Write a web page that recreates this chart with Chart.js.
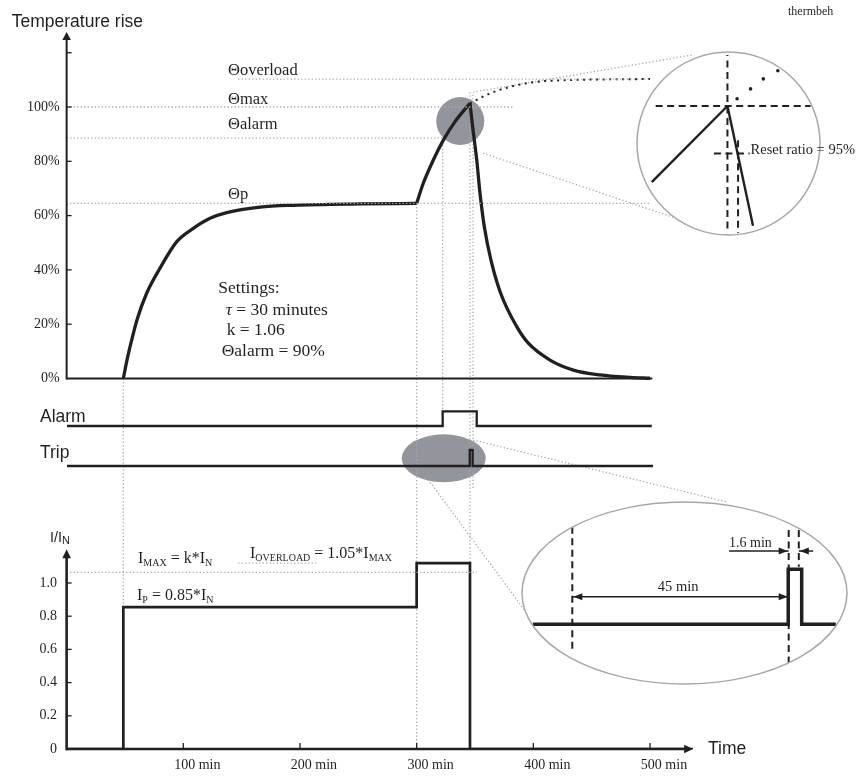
<!DOCTYPE html>
<html>
<head>
<meta charset="utf-8">
<title>thermbeh</title>
<script src="https://cdn.jsdelivr.net/npm/chart.js@4.4.1/dist/chart.umd.min.js"></script>
<style>
  html, body { margin: 0; padding: 0; background: #fff; }
  #wrap { position: relative; width: 859px; height: 776px; overflow: hidden; }
  #wrap canvas { position: absolute; }
</style>
</head>
<body>
<div id="wrap">
  <canvas id="main"></canvas>
  <canvas id="lensPeak"></canvas>
  <canvas id="lensTrip"></canvas>
</div>
<script>
// ---- values, time in minutes ----
// temperature rise (%) : heating at I = 0.85*In, overload, cooling after trip
const heatTime = [48.6, 52, 55.8, 60.6, 68.6, 80, 94.4, 108.6, 122.9, 137.2, 165.8, 194.3, 251.5, 300];
const heatTemp = [0, 7.3, 14.2, 22, 31.4, 40.6, 50.4, 55.3, 59, 61.1, 63.1, 63.8, 64.3, 64.5];
const overTime = [300, 305.7, 314.3, 322.9, 332.9, 345.7];
const overTemp = [64.5, 71.9, 80.5, 87.8, 94.6, 101.4];
const coolTime = [345.7, 348, 351.5, 354.3, 358, 363.7, 372, 385.8, 395.7, 414.3, 434.3, 457.1, 482.9, 500];
const coolTemp = [101.4, 92.7, 80.5, 68.2, 55.9, 43.6, 31.4, 19.1, 13, 6.8, 3.1, 1.3, 0.4, 0.1];
// dotted: the rise if the relay did not trip
const noTripTime = [345.7, 362.9, 382.6, 411.5, 500];
const noTripTemp = [101.4, 105, 107.7, 109.6, 110.3];

// theta levels
const levelNames = ['Θoverload', 'Θmax', 'Θalarm', 'Θp'];
const levelTemp = [110.3, 100, 88.5, 64.5];
const levelFrom = [147, 0, 0, 0];
const levelTo = [500, 382.6, 322.9, 500];
const levelLabelTemp = [113.4, 102.6, 93.4, 67.6];

// alarm / trip outputs (0 = off, 1 = on)
const alarmTime = [0, 322.3, 322.3, 351.5, 351.5, 501.5];
const alarmState = [0, 0, 1, 1, 0, 0];
const tripTime = [0, 345.5, 345.5, 348, 348, 502.6];
const tripState = [0, 0, 1, 1, 0, 0];

// current I/In
const iP = 0.855, iMax = 1.064, iOverload = 1.12;
const currentTime = [0, 48.6, 48.6, 300, 300, 345.7, 345.7, 537];
const currentLevel = [0, 0, iP, iP, iOverload, iOverload, 0, 0];

// ticks
const tempTicks = [0, 20, 40, 60, 80, 100];
const tempMarks = [20, 40, 60, 80, 100, 120];
const currentTicks = [0, 0.2, 0.4, 0.6, 0.8, 1.0];
const timeTicks = [100, 200, 300, 400, 500];

// lens 1: around the peak (x = minutes from trip, y = %)
const peakRiseX = [-15.4, 0], peakRiseY = [92, 100];
const peakFallX = [0, 5.2], peakFallY = [100, 87.4];
const peakDotsX = [1.96, 4.7, 7.3, 10.25], peakDotsY = [100.76, 101.8, 102.85, 103.7];
const resetLevel = 95, resetTime = 2.16;

// lens 2: around the trip pulse (x = minutes, y = trip state)
const lensTripTime = [291.8, 344.9, 344.9, 347.7, 347.7, 354.8];
const lensTripState = [0, 0, 1, 1, 0, 0];
const overloadStart = 300, tripAt = 345, tripEnd = 347.1;

// ---- styles / layout ----
const INK = '#231f20';
const GUIDE = '#a9a9a9';
const BLOB = '#93959c';
const SERIF = '"Liberation Serif", "Times New Roman", serif';
const SANS = '"Liberation Sans", Arial, sans-serif';
const serif = px => px + 'px ' + SERIF;
const sans = px => px + 'px ' + SANS;

const PLOT = { left: 67, right: 693, top: 30, bottom: 749 };
const PEAK_BOX = { left: 636, top: 51, w: 223, h: 186 };
const TRIP_BOX = { left: 521, top: 501, w: 328, h: 184 };

Chart.defaults.font.family = SERIF;
Chart.defaults.font.size = 14;
Chart.defaults.color = INK;

const pts = (xs, ys) => xs.map((x, i) => ({ x: x, y: ys[i] }));

// value range of an axis so that value v1 sits at pixel p1 and v2 at p2
function span(v1, p1, v2, p2, pStart, pEnd) {
  const k = (v2 - v1) / (p2 - p1);
  const a = v1 + (pStart - p1) * k, b = v1 + (pEnd - p1) * k;
  return { min: Math.min(a, b), max: Math.max(a, b) };
}

function seg(ctx, x1, y1, x2, y2) {
  ctx.beginPath(); ctx.moveTo(x1, y1); ctx.lineTo(x2, y2); ctx.stroke();
}
function arrowHead(ctx, x, y, dx, dy, len, half) {
  const n = Math.hypot(dx, dy), ux = dx / n, uy = dy / n;
  ctx.beginPath();
  ctx.moveTo(x, y);
  ctx.lineTo(x - ux * len - uy * half, y - uy * len + ux * half);
  ctx.lineTo(x - ux * len + uy * half, y - uy * len - ux * half);
  ctx.closePath();
  ctx.fill();
}
function txt(ctx, s, x, y, font, align) {
  ctx.font = font; ctx.textAlign = align || 'left'; ctx.textBaseline = 'middle';
  ctx.fillText(s, x, y);
}
// text with subscripts, baseline at y
function rich(ctx, x, y, parts) {
  ctx.textAlign = 'left'; ctx.textBaseline = 'alphabetic';
  parts.forEach(p => {
    ctx.font = p[1];
    ctx.fillText(p[0], x, y + (p[2] || 0));
    x += ctx.measureText(p[0]).width;
  });
}

// ---------------- main chart ----------------
const mainCanvas = document.getElementById('main');
mainCanvas.width = 859; mainCanvas.height = 776;
mainCanvas.style.left = '0px'; mainCanvas.style.top = '0px';

const guideLine = { borderColor: GUIDE, borderWidth: 1.3, borderDash: [1.3, 2.2], pointRadius: 0 };

const xRange = span(100, 183.3, 500, 650, PLOT.left, PLOT.right);
const tempRange = span(0, 378.5, 100, 107, PLOT.top, PLOT.bottom);
const alarmRange = span(0, 426, 1, 411.3, PLOT.top, PLOT.bottom);
const tripRange = span(0, 466, 1, 450, PLOT.top, PLOT.bottom);
const curRange = span(0, 749, 1, 583, PLOT.top, PLOT.bottom);

// y axes sit on the time axis a few minutes left of zero, so their
// right-aligned labels end just left of the drawn axis line
function yAxis(range, extra) {
  return Object.assign({
    type: 'linear', min: range.min, max: range.max,
    grid: { display: false, drawTicks: false }, border: { display: false }
  }, extra);
}

// vertical dotted guides: time, from (axis, value) to (axis, value)
const vGuides = [
  [48.6, 'yTemp', 0, 'yCur', iP],
  [300, 'yTemp', 64.5, 'yCur', 0],
  [322.3, 'yTemp', 88.5, 'yAlarm', 1],
  [345.7, 'yTemp', 105.5, 'yCur', iOverload],
  [348.3, 'yTemp', 104.5, 'yTrip', -1.5]
];

const diagram = {
  id: 'diagram',
  beforeDatasetsDraw(chart) {
    const { ctx, scales: s } = chart;
    const X = v => s.x.getPixelForValue(v);
    ctx.save();
    // grey spots marking the magnified areas
    const pk = { x: X(337.4), y: s.yTemp.getPixelForValue(94.8) };
    const tb = { x: X(323.2), y: s.yTrip.getPixelForValue(0.48) };
    ctx.fillStyle = BLOB;
    ctx.beginPath(); ctx.ellipse(pk.x, pk.y, 24, 24, 0, 0, Math.PI * 2); ctx.fill();
    ctx.beginPath(); ctx.ellipse(tb.x, tb.y, 42, 24, 0, 0, Math.PI * 2); ctx.fill();

    ctx.strokeStyle = GUIDE; ctx.lineWidth = 1.3; ctx.setLineDash([1.3, 2.2]);
    vGuides.forEach(g => {
      seg(ctx, X(g[0]), s[g[1]].getPixelForValue(g[2]), X(g[0]), s[g[3]].getPixelForValue(g[4]));
    });
    // connectors from the spots to the lenses
    const conn = [
      [pk, 12.7, -29, PEAK_BOX, 56, 4],
      [pk, 22.7, 32, PEAK_BOX, 54, 172],
      [tb, 29.3, -18.3, TRIP_BOX, 206, 1],
      [tb, -13.7, 23.7, TRIP_BOX, 7, 114]
    ];
    conn.forEach(c => seg(ctx, c[0].x + c[1], c[0].y + c[2], c[3].left + c[4], c[3].top + c[5]));
    ctx.restore();
  },
  afterDatasetsDraw(chart) {
    const { ctx, scales: s } = chart;
    const X = v => s.x.getPixelForValue(v);
    const ax = X(0);
    ctx.save();
    ctx.strokeStyle = INK; ctx.fillStyle = INK; ctx.setLineDash([]);

    // temperature axis
    const t0 = s.yTemp.getPixelForValue(0), tTop = s.yTemp.getPixelForValue(127.6);
    ctx.lineWidth = 2;
    seg(ctx, ax, t0 + 1, ax, tTop + 6);
    arrowHead(ctx, ax, tTop, 0, -1, 8, 4.3);
    seg(ctx, ax, t0, X(502), t0);
    ctx.lineWidth = 1.3;
    tempMarks.forEach(v => { const y = s.yTemp.getPixelForValue(v); seg(ctx, ax, y, ax + 5, y); });

    // current axis and time axis
    const c0 = s.yCur.getPixelForValue(0), cTop = s.yCur.getPixelForValue(1.203);
    ctx.lineWidth = 2.6;
    seg(ctx, ax, c0 + 1.3, ax, cTop + 7);
    arrowHead(ctx, ax, cTop, 0, -1, 9, 4.3);
    seg(ctx, ax, c0, X(537) - 7, c0);
    arrowHead(ctx, X(537), c0, 1, 0, 9, 4.3);
    ctx.lineWidth = 1.3;
    currentTicks.slice(1).forEach(v => { const y = s.yCur.getPixelForValue(v); seg(ctx, ax, y, ax + 5, y); });
    timeTicks.forEach(v => seg(ctx, X(v), c0, X(v), c0 - 6));

    // titles
    txt(ctx, 'Temperature rise', 11.7, 21.7, sans(17.5));
    txt(ctx, 'thermbeh', 788, 12, serif(12));
    txt(ctx, 'Alarm', 40, 416.7, sans(17.5));
    txt(ctx, 'Trip', 40, 453, sans(17.5));
    txt(ctx, 'Time', 708, 749, sans(17.5));
    rich(ctx, 50, 541.7, [['I/I', sans(14.5)], ['N', sans(11), 2]]);

    // level labels
    levelNames.forEach((n, i) => txt(ctx, n, X(138.3), s.yTemp.getPixelForValue(levelLabelTemp[i]), serif(16.5)));

    // settings box
    txt(ctx, 'Settings:', 218.3, 288.3, serif(17.5));
    ctx.font = 'italic ' + serif(17.5); ctx.textBaseline = 'middle'; ctx.fillText('τ', 225.7, 310);
    txt(ctx, ' = 30 minutes', 225.7 + ctx.measureText('τ').width, 310, serif(17.5));
    txt(ctx, 'k = 1.06', 226.7, 330, serif(17.5));
    txt(ctx, 'Θalarm = 90%', 221.7, 351.7, serif(17.5));

    // current levels
    rich(ctx, 138, 563, [['I', serif(16)], ['MAX', serif(10), 2.5], [' = k*I', serif(16)], ['N', serif(10), 2.5]]);
    rich(ctx, 137, 600, [['I', serif(16)], ['P', serif(10), 2.5], [' = 0.85*I', serif(16)], ['N', serif(10), 2.5]]);
    rich(ctx, 250, 557.5, [['I', serif(16)], ['OVERLOAD', serif(10), 3], [' = 1.05*I', serif(16)], ['MAX', serif(10), 3]]);
    ctx.restore();
  }
};

const lineOf = (xs, ys, axis, extra) => Object.assign({
  data: pts(xs, ys), yAxisID: axis, borderColor: INK, borderWidth: 2.3, pointRadius: 0, fill: false
}, extra);

new Chart(mainCanvas, {
  type: 'line',
  data: {
    datasets: [
      ...levelTemp.map((v, i) => lineOf([levelFrom[i], levelTo[i]], [v, v], 'yTemp', guideLine)),
      lineOf([0, 351.5], [iMax, iMax], 'yCur', guideLine),
      lineOf([147, 215], [iOverload, iOverload], 'yCur', guideLine),
      lineOf(noTripTime, noTripTemp, 'yTemp', { borderWidth: 2, borderDash: [2, 4.5], cubicInterpolationMode: 'monotone' }),
      lineOf(heatTime, heatTemp, 'yTemp', { borderWidth: 3.3, cubicInterpolationMode: 'monotone' }),
      lineOf(overTime, overTemp, 'yTemp', { borderWidth: 3.3, cubicInterpolationMode: 'monotone' }),
      lineOf(coolTime, coolTemp, 'yTemp', { borderWidth: 3.3, cubicInterpolationMode: 'monotone' }),
      lineOf(alarmTime, alarmState, 'yAlarm'),
      lineOf(tripTime, tripState, 'yTrip'),
      lineOf(currentTime, currentLevel, 'yCur', { borderWidth: 2.7 })
    ]
  },
  options: {
    responsive: false,
    animation: false,
    events: [],
    layout: { padding: { left: PLOT.left, right: 859 - PLOT.right, top: PLOT.top, bottom: 0 } },
    plugins: { legend: { display: false }, tooltip: { enabled: false } },
    scales: {
      x: {
        type: 'linear', position: 'bottom', min: xRange.min, max: xRange.max,
        grid: { display: false, drawTicks: false }, border: { display: false },
        afterBuildTicks: sc => { sc.ticks = timeTicks.map(v => ({ value: v })); },
        afterFit: sc => { sc.height = 776 - PLOT.bottom; },
        ticks: { autoSkip: false, maxRotation: 0, padding: 8, labelOffset: 14, font: { size: 14 },
                 callback: v => v + ' min' }
      },
      yTemp: yAxis(tempRange, {
        position: { x: -6 },
        afterBuildTicks: sc => { sc.ticks = tempTicks.map(v => ({ value: v })); },
        ticks: { font: { size: 14 }, callback: v => v + '%' }
      }),
      yAlarm: yAxis(alarmRange, { position: 'left', display: false }),
      yTrip: yAxis(tripRange, { position: 'left', display: false }),
      yCur: yAxis(curRange, {
        position: { x: -8.3 },
        afterBuildTicks: sc => { sc.ticks = currentTicks.map(v => ({ value: v })); },
        ticks: { font: { size: 14 }, callback: v => (v === 0 ? '0' : v.toFixed(1)) }
      })
    }
  },
  plugins: [diagram]
});

// ---------------- lenses ----------------
function lensCanvas(id, box) {
  const c = document.getElementById(id);
  c.width = box.w; c.height = box.h;
  c.style.left = box.left + 'px'; c.style.top = box.top + 'px';
  return c;
}
function lensPlugin(shape, after) {
  return {
    id: 'lens',
    beforeDatasetsDraw(chart) {
      const ctx = chart.ctx;
      ctx.save();
      shape(ctx);
      ctx.fillStyle = '#fff'; ctx.fill();
      ctx.clip();
    },
    afterDatasetsDraw(chart) {
      const ctx = chart.ctx;
      ctx.restore();
      ctx.save();
      after(chart, ctx);
      ctx.restore();
    }
  };
}
const hidden = r => ({ type: 'linear', display: false, min: r.min, max: r.max });
const lensOptions = (xr, yr) => ({
  responsive: false, animation: false, events: [],
  layout: { padding: 0 },
  plugins: { legend: { display: false }, tooltip: { enabled: false } },
  scales: { x: hidden(xr), y: hidden(yr) }
});
const dashed = { borderDash: [7, 4.5], borderWidth: 2 };

// lens on the peak
const peakCanvas = lensCanvas('lensPeak', PEAK_BOX);
const pkCircle = ctx => { ctx.beginPath(); ctx.arc(92.5, 92.5, 91.5, 0, Math.PI * 2); };
new Chart(peakCanvas, {
  type: 'line',
  data: {
    datasets: [
      lineOf([-14.6, 16.9], [100, 100], 'y', dashed),
      lineOf([-2.75, 16.9], [resetLevel, resetLevel], 'y', dashed),
      lineOf([0, 0], [106, 86], 'y', dashed),
      lineOf([resetTime, resetTime], [96.4, 86], 'y', dashed),
      lineOf(peakRiseX, peakRiseY, 'y', { borderWidth: 2.4 }),
      lineOf(peakFallX, peakFallY, 'y', { borderWidth: 2.4 }),
      lineOf(peakDotsX, peakDotsY, 'y', { showLine: false, pointRadius: 1.8, pointBorderWidth: 0, pointBackgroundColor: INK })
    ]
  },
  options: lensOptions(
    span(0, 90.7, 10, 141.7, 0, PEAK_BOX.w),
    span(100, 53.3, 95, 103, 0, PEAK_BOX.h)),
  plugins: [lensPlugin(pkCircle, (chart, ctx) => {
    const s = chart.scales;
    const x = s.x.getPixelForValue(4.7), y = s.y.getPixelForValue(95.4);
    ctx.font = serif(14.5);
    const w = ctx.measureText('Reset ratio = 95%').width;
    ctx.fillStyle = '#fff'; ctx.fillRect(x - 1, y - 8, w + 2, 15);
    pkCircle(ctx); ctx.strokeStyle = '#a7a7a7'; ctx.lineWidth = 1.5; ctx.stroke();
    ctx.fillStyle = INK;
    txt(ctx, 'Reset ratio = 95%', x, y, serif(14.5));
  })]
});

// lens on the trip pulse
const tripCanvas = lensCanvas('lensTrip', TRIP_BOX);
const tpEllipse = ctx => { ctx.beginPath(); ctx.ellipse(163.5, 92, 162.5, 91, 0, 0, Math.PI * 2); };
new Chart(tripCanvas, {
  type: 'line',
  data: {
    datasets: [
      lineOf([overloadStart, overloadStart], [1.775, -0.498], 'y', dashed),
      lineOf([tripAt, tripAt], [1.715, -0.704], 'y', dashed),
      lineOf([tripEnd, tripEnd], [1.715, 1.047], 'y', dashed),
      lineOf([overloadStart, tripAt], [0.502, 0.502], 'y', { borderWidth: 1.5 }),
      lineOf([332.6, tripAt], [1.333, 1.333], 'y', { borderWidth: 1.5 }),
      lineOf([350.1, tripEnd], [1.333, 1.333], 'y', { borderWidth: 1.5 }),
      lineOf(lensTripTime, lensTripState, 'y', { borderWidth: 3.5 })
    ]
  },
  options: lensOptions(
    span(300, 51.3, 345, 267.7, 0, TRIP_BOX.w),
    span(0, 123.3, 1, 68.3, 0, TRIP_BOX.h)),
  plugins: [lensPlugin(tpEllipse, (chart, ctx) => {
    const s = chart.scales;
    const X = v => s.x.getPixelForValue(v), Y = v => s.y.getPixelForValue(v);
    tpEllipse(ctx); ctx.strokeStyle = '#a7a7a7'; ctx.lineWidth = 1.5; ctx.stroke();
    ctx.fillStyle = INK;
    arrowHead(ctx, X(overloadStart) + 1, Y(0.502), -1, 0, 9, 3.5);
    arrowHead(ctx, X(tripAt) - 1, Y(0.502), 1, 0, 9, 3.5);
    arrowHead(ctx, X(tripAt) - 1, Y(1.333), 1, 0, 9, 3.5);
    arrowHead(ctx, X(tripEnd) + 1, Y(1.333), -1, 0, 9, 3.5);
    txt(ctx, '45 min', X(322), Y(0.68), serif(14.5), 'center');
    txt(ctx, '1.6 min', X(332.6), Y(1.478), serif(14));
  })]
});
</script>
</body>
</html>
